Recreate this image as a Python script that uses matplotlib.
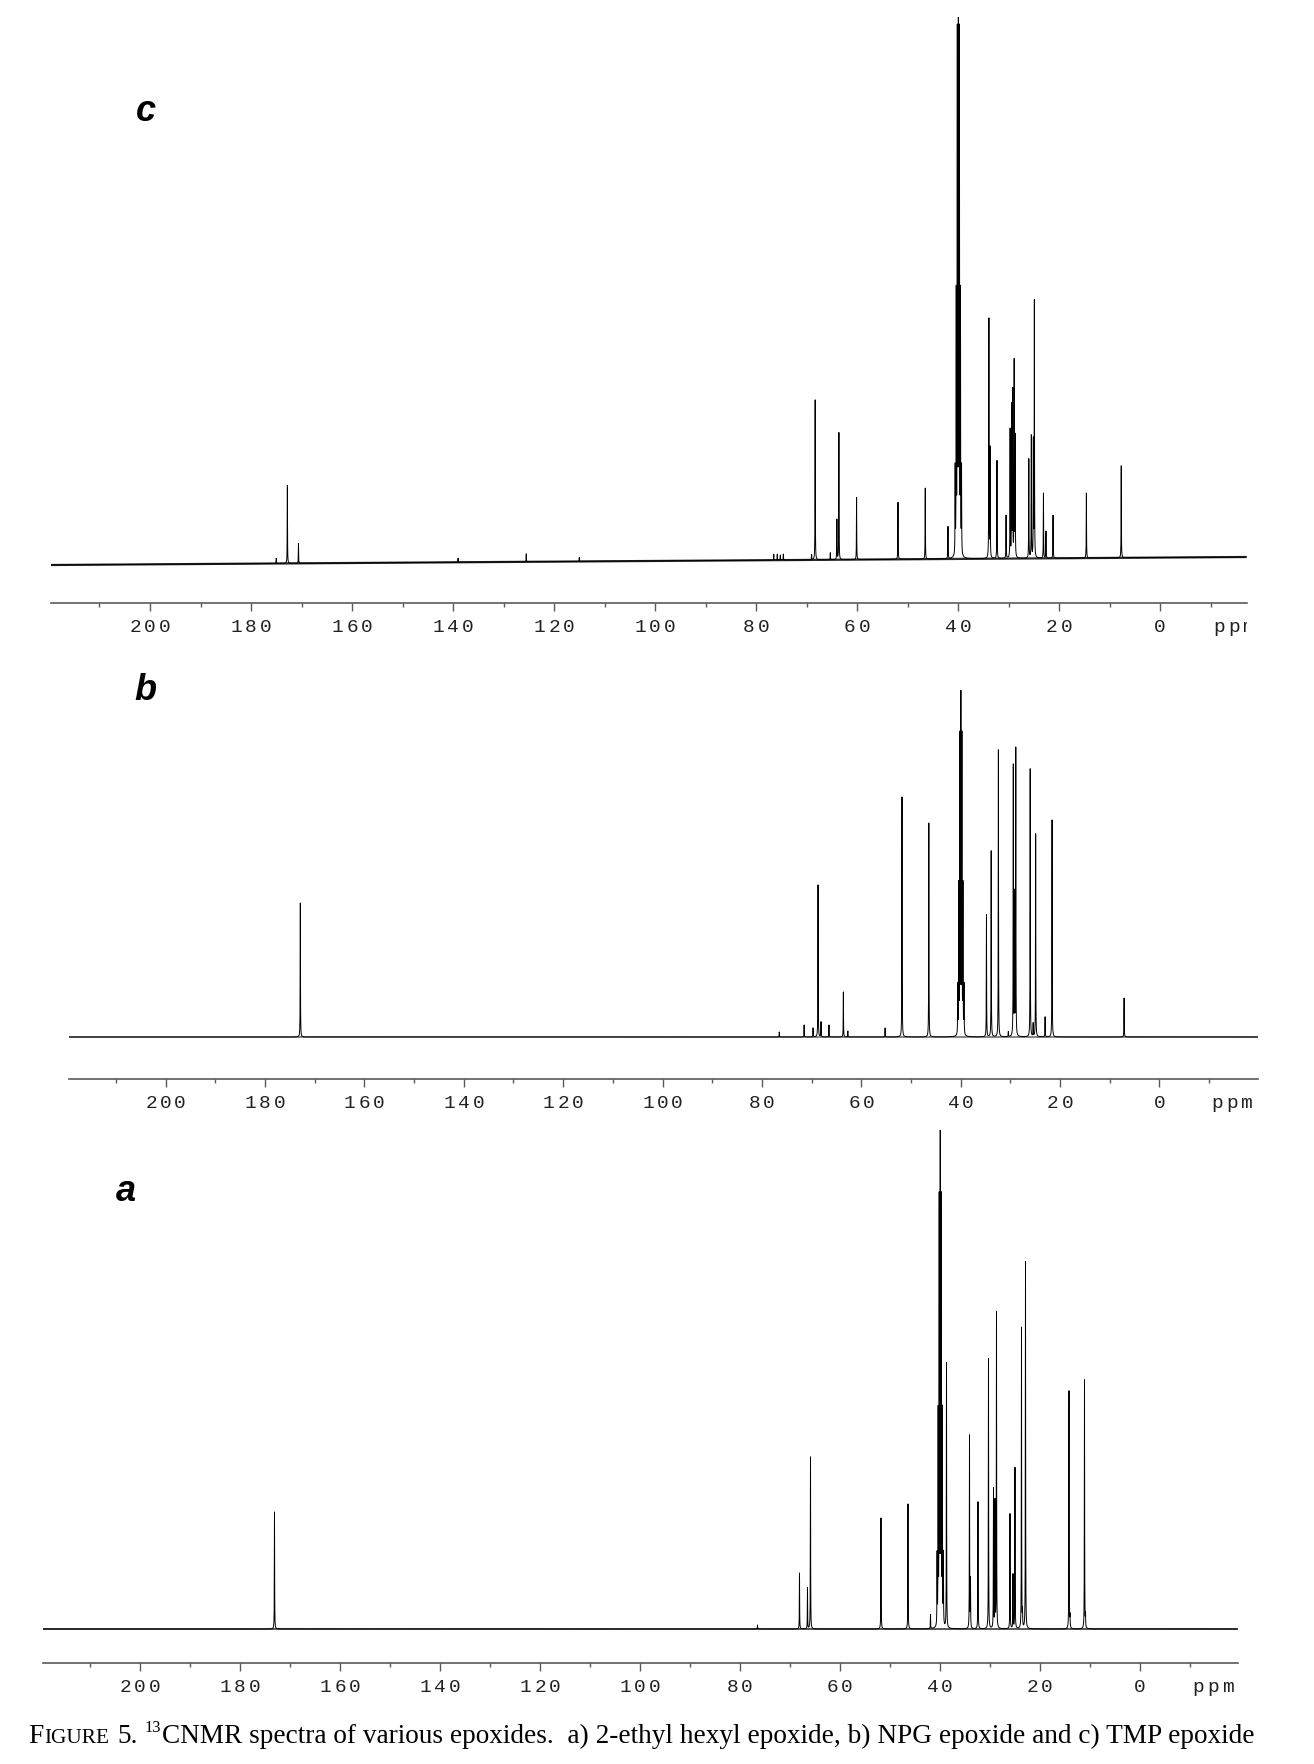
import numpy as np
import matplotlib.pyplot as plt
from matplotlib.transforms import Bbox

W, H, DPI = 1314, 1764, 100

# DMSO-d6 solvent septet, same positions in all three spectra
dmso_ppm = [40.58, 40.37, 40.16, 39.95, 39.74, 39.53, 39.32]

# c) TMP epoxide : shift (ppm) and peak height (px above baseline)
c_ppm = [175.0, 172.8, 170.6, 139.0, 125.5, 115.0, 76.5, 75.8, 75.2, 74.6, 69.0,
         68.3, 65.3, 64.0, 63.6, 60.1, 51.9, 46.5, 42.0,
         33.9, 33.66, 32.3, 30.5, 29.7, 29.4, 29.2, 28.9, 28.7,
         26.0, 25.5, 25.1, 24.9, 23.1, 22.6, 21.2, 14.6, 7.7]
c_height = [5, 78, 20, 4, 8, 4, 6, 6, 5, 6, 5,
            160, 7, 40, 127, 62, 57, 71, 32,
            239, 109, 98, 43, 128, 150, 165, 195, 120,
            99, 122, 115, 256, 65, 27, 43, 65, 92]
c_dmso = [86, 257, 514, 600, 514, 257, 86]
c_drift = [0, 8]          # baseline rise from left edge to right edge (px)

# b) NPG epoxide
b_ppm = [172.9, 76.5, 71.5, 69.7, 68.7, 68.1, 66.5, 63.6, 62.7, 55.2, 51.8, 46.4,
         34.8, 33.85, 32.4, 30.4, 29.4, 29.15, 28.9, 26.0, 25.4, 24.9, 23.0, 21.6, 7.1]
b_height = [134, 5, 12, 9, 152, 15, 12, 45, 6, 9, 240, 214,
            122, 186, 287, 5, 270, 140, 287, 268, 13, 203, 20, 217, 39]
b_dmso = [49, 147, 294, 343, 294, 147, 49]

# a) 2-ethyl hexyl epoxide
a_ppm = [173.1, 76.5, 68.1, 66.5, 65.9, 51.8, 46.4, 41.9, 38.7, 34.1, 33.9, 32.4,
         30.3, 29.3, 29.0, 28.7, 26.0, 25.4, 25.0, 23.7, 23.5, 22.9, 14.2, 14.0, 11.1, 10.9]
a_height = [117, 4, 56, 41, 172, 111, 125, 14, 265, 193, 48, 127,
            270, 139, 126, 316, 115, 54, 161, 301, 15, 367, 238, 11, 249, 12]
a_dmso = [70, 210, 420, 490, 420, 210, 70]

major_ticks = list(range(0, 201, 20))
minor_ticks = list(range(-10, 211, 20))

caption_parts = [("F", 1.0, 0.0), ("IGURE", 0.78, 0.0), (None, 0.25, 0.0), ("5.", 1.0, 0.0),
                 (None, 0.22, 0.0), ("13", 0.6, 0.42),
                 ("CNMR spectra of various epoxides.  a) 2-ethyl hexyl epoxide, "
                  "b) NPG epoxide and c) TMP epoxide", 1.0, 0.0)]

ppm_grid = np.linspace(-21, 221, 96801)
hwhm = 0.03


def spectrum(ppm, height, drift=(0, 0), left=220, right=-20):
    y = np.zeros_like(ppm_grid)
    for p, h in zip(ppm, height):
        y += h / (1 + ((ppm_grid - p) / hwhm) ** 2)
    y += np.interp(ppm_grid, [right, left], [drift[1], drift[0]])
    return y


fig = plt.figure(figsize=(W / DPI, H / DPI), dpi=DPI)
grey = '#5a5a5a'


def spaced(ax, x, s, dy_px, gap_px=14.5, size=14, clip_x=None):
    n = len(s)
    for i, ch in enumerate(s):
        off = (i - (n - 1) / 2) * gap_px
        t = ax.annotate(ch, (x, 0), xycoords=('data', 'axes fraction'),
                        xytext=(off * 72 / DPI, -dy_px * 72 / DPI), textcoords='offset points',
                        ha='center', va='center', family='Liberation Mono', size=size,
                        color='#222222', annotation_clip=False)
        if clip_x is not None:
            t.set_clip_box(Bbox.from_extents(0, 0, clip_x, H))
            t.set_clip_on(True)


def panel(x0, x1, y_axis, y_top, y_base, ppm_l, ppm_r, ppm, height, dmso, drift, base_lw):
    ax = fig.add_axes([x0 / W, 1 - y_axis / H, (x1 - x0) / W, (y_axis - y_top) / H])
    ax.set_xlim(ppm_l, ppm_r)
    gap = y_axis - y_base
    ax.set_ylim(-gap, y_axis - y_top - gap)
    y = spectrum(list(ppm) + dmso_ppm, list(height) + list(dmso), drift, ppm_l, ppm_r)
    ax.plot(ppm_grid, np.interp(ppm_grid, [ppm_r, ppm_l], [drift[1], drift[0]]),
            color='#2a2a2a', lw=base_lw, solid_capstyle='butt')
    ax.plot(ppm_grid, y, color='black', lw=0.7)
    for s in ['top', 'left', 'right']:
        ax.spines[s].set_visible(False)
    ax.spines['bottom'].set_color(grey)
    ax.spines['bottom'].set_linewidth(1.2)
    ax.set_yticks([])
    ax.set_xticks(major_ticks)
    ax.set_xticks(minor_ticks, minor=True)
    ax.tick_params(axis='x', which='major', direction='out', length=6, width=1,
                   color=grey, labelbottom=False)
    ax.tick_params(axis='x', which='minor', direction='out', length=3, width=1, color=grey)
    for t in major_ticks:
        spaced(ax, t, str(t), 24)
    spaced(ax, -14.6, "ppm", 24, clip_x=x1)
    return ax


panel(51, 1246.5, 603, 17, 565, 219.6, -17.1, c_ppm, c_height, c_dmso, c_drift, 1.6)
panel(69, 1257.75, 1079, 690, 1037, 219.46, -19.8, b_ppm, b_height, b_dmso, (0, 0), 0.8)
panel(42.75, 1237.5, 1663, 1130, 1629, 219.45, -19.5, a_ppm, a_height, a_dmso, (0, 0), 1.1)

for lab, x, y in [("c", 146, 121), ("b", 145, 700), ("a", 126, 1201)]:
    fig.text(x / W, 1 - y / H, lab, family='Liberation Sans', weight='bold', style='italic',
             size=26, ha='center', va='baseline')

# caption, with small caps and superscript, fitted to the printed width
renderer = fig.canvas.get_renderer()


def draw_caption(size, x_px=28, y_px=1743):
    x = x_px
    drawn = []
    for s, rel, rise in caption_parts:
        if s is None:
            x += rel * size * DPI / 72
            continue
        t = fig.text(x / W, 1 - (y_px - rise * size * DPI / 72) / H, s, family='Liberation Serif',
                     size=size * rel, va='baseline', ha='left')
        drawn.append(t)
        x = t.get_window_extent(renderer).x1 + 1
    return drawn, x - x_px


texts, width = draw_caption(18)
for t in texts:
    t.remove()
draw_caption(18 * 1230 / width)

fig.savefig('out.png', dpi=DPI)
